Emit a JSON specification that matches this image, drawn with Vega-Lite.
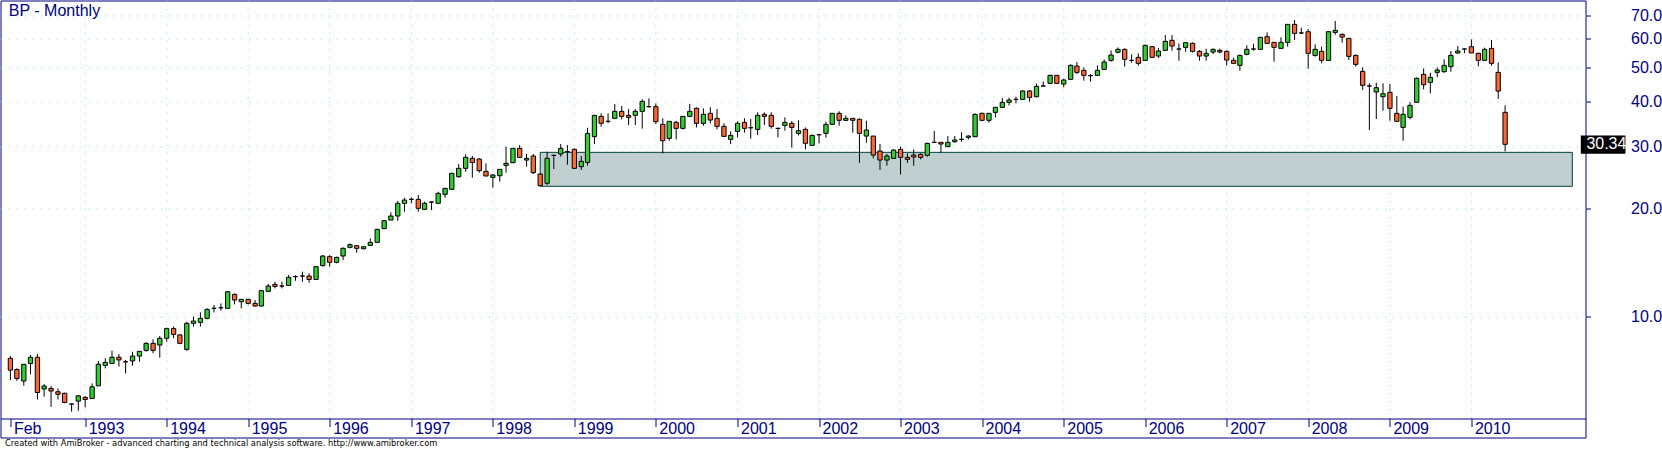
{
"$schema": "https://vega.github.io/schema/vega-lite/v6.json",
"width": 1585, "height": 437,
"autosize": {"type": "none"},
"padding": {"left": 0.5, "top": 0.5, "right": 76.5, "bottom": 11.5},
"background": "white",
"config": {"view": {"stroke": "#000080", "strokeWidth": 1}, "font": "Liberation Sans"},
"datasets": {
"years": [{"d":"1993-01-01"},{"d":"1994-01-01"},{"d":"1995-01-01"},{"d":"1996-01-01"},{"d":"1997-01-01"},{"d":"1998-01-01"},{"d":"1999-01-01"},{"d":"2000-01-01"},{"d":"2001-01-01"},{"d":"2002-01-01"},{"d":"2003-01-01"},{"d":"2004-01-01"},{"d":"2005-01-01"},{"d":"2006-01-01"},{"d":"2007-01-01"},{"d":"2008-01-01"},{"d":"2009-01-01"},{"d":"2010-01-01"}],
"candles": [
{"d":"1992-02-01","o":7.61,"h":7.72,"l":6.61,"c":7.05},
{"d":"1992-03-01","o":7.08,"h":7.13,"l":6.58,"c":6.68},
{"d":"1992-04-01","o":6.57,"h":7.32,"l":6.37,"c":7.32},
{"d":"1992-05-01","o":7.36,"h":7.77,"l":6.86,"c":7.66},
{"d":"1992-06-01","o":7.66,"h":7.82,"l":5.83,"c":6.10},
{"d":"1992-07-01","o":6.24,"h":6.44,"l":5.94,"c":6.36},
{"d":"1992-08-01","o":6.26,"h":6.36,"l":5.56,"c":6.16},
{"d":"1992-09-01","o":6.13,"h":6.26,"l":5.83,"c":6.03},
{"d":"1992-10-01","o":6.07,"h":6.09,"l":5.69,"c":5.72},
{"d":"1992-11-01","o":5.66,"h":5.69,"l":5.39,"c":5.66},
{"d":"1992-12-01","o":5.77,"h":6.00,"l":5.42,"c":5.97},
{"d":"1993-01-01","o":5.91,"h":5.96,"l":5.54,"c":5.83},
{"d":"1993-02-01","o":5.87,"h":6.47,"l":5.85,"c":6.33},
{"d":"1993-03-01","o":6.37,"h":7.48,"l":6.37,"c":7.32},
{"d":"1993-04-01","o":7.27,"h":7.61,"l":7.13,"c":7.41},
{"d":"1993-05-01","o":7.36,"h":7.99,"l":7.36,"c":7.66},
{"d":"1993-06-01","o":7.66,"h":7.82,"l":7.21,"c":7.53},
{"d":"1993-07-01","o":7.44,"h":7.53,"l":6.90,"c":7.44},
{"d":"1993-08-01","o":7.48,"h":7.94,"l":7.25,"c":7.72},
{"d":"1993-09-01","o":7.72,"h":7.96,"l":7.44,"c":7.96},
{"d":"1993-10-01","o":8.01,"h":8.44,"l":7.94,"c":8.38},
{"d":"1993-11-01","o":8.38,"h":8.60,"l":7.86,"c":8.01},
{"d":"1993-12-01","o":8.29,"h":8.79,"l":7.64,"c":8.66},
{"d":"1994-01-01","o":8.66,"h":9.28,"l":8.47,"c":9.22},
{"d":"1994-02-01","o":9.22,"h":9.34,"l":8.66,"c":8.88},
{"d":"1994-03-01","o":8.85,"h":8.88,"l":8.38,"c":8.38},
{"d":"1994-04-01","o":8.06,"h":9.64,"l":7.99,"c":9.54},
{"d":"1994-05-01","o":9.54,"h":9.96,"l":9.34,"c":9.68},
{"d":"1994-06-01","o":9.60,"h":10.24,"l":9.34,"c":9.85},
{"d":"1994-07-01","o":9.85,"h":10.51,"l":9.79,"c":10.44},
{"d":"1994-08-01","o":10.51,"h":10.74,"l":10.24,"c":10.51},
{"d":"1994-09-01","o":10.55,"h":10.85,"l":10.35,"c":10.55},
{"d":"1994-10-01","o":10.51,"h":11.75,"l":10.51,"c":11.70},
{"d":"1994-11-01","o":11.50,"h":11.58,"l":10.78,"c":11.09},
{"d":"1994-12-01","o":10.97,"h":11.16,"l":10.51,"c":11.14},
{"d":"1995-01-01","o":11.14,"h":11.14,"l":10.78,"c":10.85},
{"d":"1995-02-01","o":10.85,"h":11.09,"l":10.62,"c":10.67},
{"d":"1995-03-01","o":10.67,"h":11.83,"l":10.62,"c":11.78},
{"d":"1995-04-01","o":11.73,"h":12.30,"l":11.68,"c":12.14},
{"d":"1995-05-01","o":12.27,"h":12.48,"l":11.96,"c":12.11},
{"d":"1995-06-01","o":12.14,"h":12.48,"l":11.96,"c":12.14},
{"d":"1995-07-01","o":12.19,"h":13.04,"l":12.19,"c":12.84},
{"d":"1995-08-01","o":12.90,"h":13.01,"l":12.56,"c":12.90},
{"d":"1995-09-01","o":12.95,"h":13.32,"l":12.48,"c":12.95},
{"d":"1995-10-01","o":12.95,"h":13.18,"l":12.40,"c":12.67},
{"d":"1995-11-01","o":12.67,"h":13.76,"l":12.67,"c":13.76},
{"d":"1995-12-01","o":13.85,"h":14.83,"l":13.76,"c":14.74},
{"d":"1996-01-01","o":14.68,"h":14.83,"l":13.76,"c":14.15},
{"d":"1996-02-01","o":14.15,"h":14.68,"l":14.06,"c":14.61},
{"d":"1996-03-01","o":14.74,"h":15.59,"l":14.36,"c":15.49},
{"d":"1996-04-01","o":15.59,"h":16.00,"l":15.49,"c":15.86},
{"d":"1996-05-01","o":15.76,"h":15.82,"l":15.06,"c":15.49},
{"d":"1996-06-01","o":15.45,"h":15.72,"l":15.39,"c":15.65},
{"d":"1996-07-01","o":15.79,"h":16.52,"l":15.76,"c":16.10},
{"d":"1996-08-01","o":16.10,"h":17.59,"l":16.10,"c":17.51},
{"d":"1996-09-01","o":17.59,"h":18.60,"l":17.59,"c":18.52},
{"d":"1996-10-01","o":18.60,"h":19.55,"l":18.60,"c":19.09},
{"d":"1996-11-01","o":19.09,"h":21.03,"l":18.52,"c":20.72},
{"d":"1996-12-01","o":20.72,"h":21.49,"l":19.63,"c":21.17},
{"d":"1997-01-01","o":21.26,"h":21.54,"l":20.72,"c":21.26},
{"d":"1997-02-01","o":21.26,"h":21.86,"l":19.63,"c":20.06},
{"d":"1997-03-01","o":19.93,"h":20.94,"l":19.84,"c":20.72},
{"d":"1997-04-01","o":20.89,"h":20.98,"l":19.84,"c":20.89},
{"d":"1997-05-01","o":20.72,"h":22.34,"l":20.72,"c":22.10},
{"d":"1997-06-01","o":21.96,"h":22.83,"l":21.49,"c":22.83},
{"d":"1997-07-01","o":22.68,"h":25.26,"l":22.58,"c":25.15},
{"d":"1997-08-01","o":24.61,"h":26.71,"l":24.46,"c":25.98},
{"d":"1997-09-01","o":25.98,"h":28.44,"l":25.42,"c":27.89},
{"d":"1997-10-01","o":27.71,"h":28.13,"l":24.46,"c":27.00},
{"d":"1997-11-01","o":27.59,"h":27.71,"l":25.26,"c":25.59},
{"d":"1997-12-01","o":25.48,"h":26.83,"l":24.72,"c":24.72},
{"d":"1998-01-01","o":24.51,"h":25.04,"l":22.92,"c":24.88},
{"d":"1998-02-01","o":24.77,"h":25.81,"l":23.83,"c":25.81},
{"d":"1998-03-01","o":26.48,"h":29.88,"l":25.26,"c":26.83},
{"d":"1998-04-01","o":26.94,"h":29.56,"l":26.94,"c":29.56},
{"d":"1998-05-01","o":29.56,"h":30.20,"l":27.89,"c":27.89},
{"d":"1998-06-01","o":27.41,"h":28.50,"l":26.26,"c":27.71},
{"d":"1998-07-01","o":28.13,"h":28.50,"l":25.04,"c":25.26},
{"d":"1998-08-01","o":25.04,"h":25.15,"l":23.17,"c":23.22},
{"d":"1998-09-01","o":23.58,"h":28.93,"l":23.32,"c":27.71},
{"d":"1998-10-01","o":28.25,"h":28.37,"l":25.86,"c":28.25},
{"d":"1998-11-01","o":28.50,"h":30.40,"l":28.01,"c":29.56},
{"d":"1998-12-01","o":28.93,"h":30.20,"l":26.60,"c":28.93},
{"d":"1999-01-01","o":29.37,"h":29.56,"l":25.86,"c":25.98},
{"d":"1999-02-01","o":26.26,"h":28.13,"l":25.70,"c":27.18},
{"d":"1999-03-01","o":27.00,"h":33.78,"l":26.43,"c":32.57},
{"d":"1999-04-01","o":31.88,"h":36.59,"l":30.40,"c":36.59},
{"d":"1999-05-01","o":36.35,"h":37.07,"l":34.00,"c":34.75},
{"d":"1999-06-01","o":35.20,"h":37.07,"l":34.75,"c":35.20},
{"d":"1999-07-01","o":35.89,"h":39.37,"l":35.73,"c":37.55},
{"d":"1999-08-01","o":37.55,"h":38.87,"l":35.66,"c":36.35},
{"d":"1999-09-01","o":36.59,"h":38.12,"l":34.37,"c":36.12},
{"d":"1999-10-01","o":36.59,"h":38.12,"l":34.37,"c":37.55},
{"d":"1999-11-01","o":37.55,"h":40.58,"l":33.57,"c":40.06},
{"d":"1999-12-01","o":38.70,"h":40.84,"l":38.53,"c":38.70},
{"d":"2000-01-01","o":38.70,"h":39.54,"l":34.60,"c":35.12},
{"d":"2000-02-01","o":34.52,"h":35.89,"l":28.62,"c":31.06},
{"d":"2000-03-01","o":31.53,"h":35.20,"l":31.06,"c":35.20},
{"d":"2000-04-01","o":34.97,"h":35.27,"l":31.33,"c":33.64},
{"d":"2000-05-01","o":33.64,"h":36.35,"l":33.42,"c":36.35},
{"d":"2000-06-01","o":36.35,"h":39.37,"l":36.28,"c":37.55},
{"d":"2000-07-01","o":38.28,"h":38.53,"l":33.85,"c":34.75},
{"d":"2000-08-01","o":34.75,"h":38.28,"l":34.22,"c":36.83},
{"d":"2000-09-01","o":37.07,"h":38.53,"l":34.75,"c":35.50},
{"d":"2000-10-01","o":35.89,"h":38.12,"l":33.42,"c":34.08},
{"d":"2000-11-01","o":34.08,"h":34.75,"l":31.94,"c":31.94},
{"d":"2000-12-01","o":31.33,"h":32.99,"l":30.40,"c":32.15},
{"d":"2001-01-01","o":32.99,"h":35.20,"l":31.74,"c":34.75},
{"d":"2001-02-01","o":34.97,"h":35.89,"l":32.71,"c":33.64},
{"d":"2001-03-01","o":33.78,"h":35.73,"l":31.47,"c":33.78},
{"d":"2001-04-01","o":33.42,"h":37.31,"l":32.22,"c":36.59},
{"d":"2001-05-01","o":36.83,"h":37.31,"l":34.37,"c":36.35},
{"d":"2001-06-01","o":36.59,"h":37.31,"l":33.57,"c":34.08},
{"d":"2001-07-01","o":33.64,"h":33.78,"l":31.74,"c":33.64},
{"d":"2001-08-01","o":34.30,"h":36.12,"l":33.14,"c":34.97},
{"d":"2001-09-01","o":34.75,"h":35.27,"l":29.69,"c":33.85},
{"d":"2001-10-01","o":32.57,"h":35.43,"l":32.15,"c":33.14},
{"d":"2001-11-01","o":33.42,"h":33.85,"l":29.37,"c":30.53},
{"d":"2001-12-01","o":30.14,"h":32.29,"l":30.14,"c":32.15},
{"d":"2002-01-01","o":32.29,"h":32.36,"l":30.53,"c":32.29},
{"d":"2002-02-01","o":32.57,"h":35.12,"l":31.67,"c":34.52},
{"d":"2002-03-01","o":34.52,"h":37.07,"l":34.52,"c":37.07},
{"d":"2002-04-01","o":37.07,"h":37.55,"l":34.22,"c":35.43},
{"d":"2002-05-01","o":35.43,"h":36.59,"l":35.35,"c":35.89},
{"d":"2002-06-01","o":35.89,"h":35.89,"l":32.71,"c":35.43},
{"d":"2002-07-01","o":35.66,"h":35.89,"l":26.94,"c":32.57},
{"d":"2002-08-01","o":32.01,"h":35.35,"l":30.66,"c":33.28},
{"d":"2002-09-01","o":32.01,"h":32.01,"l":27.71,"c":28.31},
{"d":"2002-10-01","o":29.05,"h":30.40,"l":25.70,"c":27.41},
{"d":"2002-11-01","o":27.41,"h":28.50,"l":26.43,"c":28.13},
{"d":"2002-12-01","o":27.71,"h":29.37,"l":27.71,"c":29.24},
{"d":"2003-01-01","o":29.37,"h":29.88,"l":24.99,"c":27.89},
{"d":"2003-02-01","o":27.89,"h":28.62,"l":26.94,"c":27.53},
{"d":"2003-03-01","o":28.31,"h":29.37,"l":26.43,"c":27.95},
{"d":"2003-04-01","o":28.44,"h":28.62,"l":27.53,"c":27.89},
{"d":"2003-05-01","o":28.25,"h":30.66,"l":28.01,"c":30.53},
{"d":"2003-06-01","o":30.73,"h":33.07,"l":30.66,"c":30.73},
{"d":"2003-07-01","o":30.73,"h":30.73,"l":28.74,"c":30.40},
{"d":"2003-08-01","o":29.88,"h":32.01,"l":29.88,"c":30.73},
{"d":"2003-09-01","o":30.86,"h":32.01,"l":30.66,"c":31.20},
{"d":"2003-10-01","o":31.33,"h":32.78,"l":30.86,"c":31.33},
{"d":"2003-11-01","o":31.74,"h":32.15,"l":31.33,"c":32.01},
{"d":"2003-12-01","o":31.88,"h":37.07,"l":31.88,"c":36.83},
{"d":"2004-01-01","o":37.07,"h":37.23,"l":35.43,"c":35.43},
{"d":"2004-02-01","o":35.43,"h":37.07,"l":34.90,"c":37.07},
{"d":"2004-03-01","o":37.31,"h":38.70,"l":36.12,"c":38.53},
{"d":"2004-04-01","o":38.53,"h":40.93,"l":38.53,"c":39.80},
{"d":"2004-05-01","o":39.80,"h":41.02,"l":39.03,"c":40.40},
{"d":"2004-06-01","o":40.58,"h":41.28,"l":39.54,"c":40.58},
{"d":"2004-07-01","o":40.58,"h":43.10,"l":40.40,"c":42.82},
{"d":"2004-08-01","o":42.82,"h":43.10,"l":39.97,"c":41.10},
{"d":"2004-09-01","o":41.28,"h":44.90,"l":41.10,"c":44.13},
{"d":"2004-10-01","o":44.23,"h":45.58,"l":44.04,"c":44.23},
{"d":"2004-11-01","o":45.00,"h":47.60,"l":44.80,"c":47.39},
{"d":"2004-12-01","o":47.39,"h":47.39,"l":45.00,"c":45.00},
{"d":"2005-01-01","o":44.80,"h":46.38,"l":43.85,"c":45.98},
{"d":"2005-02-01","o":46.18,"h":50.88,"l":46.18,"c":50.55},
{"d":"2005-03-01","o":50.33,"h":51.65,"l":47.79,"c":48.31},
{"d":"2005-04-01","o":48.94,"h":49.90,"l":45.78,"c":47.39},
{"d":"2005-05-01","o":47.29,"h":47.79,"l":45.49,"c":47.29},
{"d":"2005-06-01","o":47.39,"h":50.55,"l":47.19,"c":48.94},
{"d":"2005-07-01","o":49.26,"h":52.55,"l":49.26,"c":51.65},
{"d":"2005-08-01","o":52.21,"h":55.70,"l":51.76,"c":54.04},
{"d":"2005-09-01","o":55.00,"h":56.79,"l":54.63,"c":56.06},
{"d":"2005-10-01","o":56.06,"h":56.42,"l":50.12,"c":52.55},
{"d":"2005-11-01","o":52.21,"h":54.28,"l":51.43,"c":52.21},
{"d":"2005-12-01","o":53.23,"h":54.63,"l":50.44,"c":51.21},
{"d":"2006-01-01","o":52.21,"h":57.78,"l":52.21,"c":57.53},
{"d":"2006-02-01","o":57.03,"h":57.28,"l":53.00,"c":53.23},
{"d":"2006-03-01","o":53.69,"h":56.54,"l":53.00,"c":55.46},
{"d":"2006-04-01","o":55.70,"h":61.50,"l":55.70,"c":59.03},
{"d":"2006-05-01","o":59.42,"h":61.50,"l":55.58,"c":57.28},
{"d":"2006-06-01","o":56.18,"h":58.28,"l":52.10,"c":56.18},
{"d":"2006-07-01","o":56.79,"h":58.79,"l":55.22,"c":58.53},
{"d":"2006-08-01","o":58.28,"h":58.66,"l":54.98,"c":55.34},
{"d":"2006-09-01","o":55.34,"h":55.82,"l":52.10,"c":53.69},
{"d":"2006-10-01","o":53.69,"h":56.30,"l":52.10,"c":54.63},
{"d":"2006-11-01","o":55.10,"h":56.42,"l":54.40,"c":56.06},
{"d":"2006-12-01","o":55.70,"h":56.30,"l":54.63,"c":55.10},
{"d":"2007-01-01","o":55.34,"h":55.70,"l":50.55,"c":52.32},
{"d":"2007-02-01","o":52.21,"h":53.12,"l":50.99,"c":51.21},
{"d":"2007-03-01","o":50.55,"h":54.16,"l":48.84,"c":53.92},
{"d":"2007-04-01","o":54.28,"h":57.53,"l":53.92,"c":56.06},
{"d":"2007-05-01","o":56.18,"h":58.15,"l":55.58,"c":56.18},
{"d":"2007-06-01","o":56.06,"h":60.84,"l":55.82,"c":60.58},
{"d":"2007-07-01","o":60.84,"h":62.57,"l":57.90,"c":58.28},
{"d":"2007-08-01","o":58.66,"h":58.66,"l":51.76,"c":56.79},
{"d":"2007-09-01","o":56.42,"h":60.58,"l":56.42,"c":58.66},
{"d":"2007-10-01","o":58.66,"h":65.89,"l":57.03,"c":65.89},
{"d":"2007-11-01","o":65.89,"h":67.76,"l":59.55,"c":62.17},
{"d":"2007-12-01","o":62.30,"h":64.49,"l":61.90,"c":62.30},
{"d":"2008-01-01","o":62.84,"h":63.93,"l":49.47,"c":54.63},
{"d":"2008-02-01","o":53.92,"h":57.90,"l":53.46,"c":56.06},
{"d":"2008-03-01","o":55.34,"h":57.03,"l":51.21,"c":52.21},
{"d":"2008-04-01","o":52.21,"h":62.84,"l":52.21,"c":62.84},
{"d":"2008-05-01","o":62.57,"h":67.33,"l":61.63,"c":63.39},
{"d":"2008-06-01","o":61.76,"h":62.17,"l":58.53,"c":60.71},
{"d":"2008-07-01","o":60.19,"h":60.19,"l":52.32,"c":53.58},
{"d":"2008-08-01","o":53.92,"h":54.28,"l":50.12,"c":50.87},
{"d":"2008-09-01","o":48.63,"h":49.90,"l":43.10,"c":44.42},
{"d":"2008-10-01","o":44.23,"h":45.00,"l":33.28,"c":44.23},
{"d":"2008-11-01","o":42.55,"h":45.19,"l":35.74,"c":43.76},
{"d":"2008-12-01","o":41.28,"h":45.00,"l":37.71,"c":42.09},
{"d":"2009-01-01","o":42.46,"h":44.80,"l":35.35,"c":38.28},
{"d":"2009-02-01","o":37.07,"h":41.46,"l":35.05,"c":35.20},
{"d":"2009-03-01","o":33.85,"h":38.70,"l":31.06,"c":36.83},
{"d":"2009-04-01","o":36.12,"h":39.80,"l":35.66,"c":39.03},
{"d":"2009-05-01","o":39.80,"h":46.78,"l":39.80,"c":46.48},
{"d":"2009-06-01","o":47.69,"h":49.58,"l":43.28,"c":44.61},
{"d":"2009-07-01","o":45.29,"h":48.21,"l":42.18,"c":46.78},
{"d":"2009-08-01","o":48.31,"h":49.90,"l":46.78,"c":49.05},
{"d":"2009-09-01","o":48.52,"h":52.55,"l":48.21,"c":50.55},
{"d":"2009-10-01","o":50.12,"h":55.46,"l":48.52,"c":53.92},
{"d":"2009-11-01","o":54.75,"h":57.28,"l":54.51,"c":55.46},
{"d":"2009-12-01","o":56.18,"h":56.42,"l":54.75,"c":56.18},
{"d":"2010-01-01","o":57.03,"h":59.80,"l":54.75,"c":54.75},
{"d":"2010-02-01","o":54.63,"h":54.86,"l":50.23,"c":52.21},
{"d":"2010-03-01","o":52.21,"h":56.67,"l":52.21,"c":56.06},
{"d":"2010-04-01","o":56.42,"h":59.55,"l":50.44,"c":51.21},
{"d":"2010-05-01","o":48.31,"h":51.54,"l":40.68,"c":42.82},
{"d":"2010-06-01","o":37.31,"h":39.03,"l":28.99,"c":30.34}
]},
"layer": [
{
"data": {"name": "years"},
"mark": {"type": "rule", "color": "#88E0E0", "strokeDash": [1, 7], "strokeWidth": 1},
"encoding": {
"x": {"field": "d", "type": "temporal",
"scale": {"type": "utc", "domain": [{"year": 1992, "month": 1, "date": 10, "utc": true}, {"year": 2011, "month": 5, "date": 4, "hours": 16, "utc": true}], "nice": false},
"axis": {"offset": -19, "grid": false, "domain": true, "domainColor": "#000080", "domainWidth": 1, "ticks": true, "tickColor": "#000080", "tickSize": 8, "tickWidth": 1,
"values": [{"year": 1992, "month": 2, "date": 1, "utc": true}, {"year": 1993, "month": 1, "date": 1, "utc": true}, {"year": 1994, "month": 1, "date": 1, "utc": true}, {"year": 1995, "month": 1, "date": 1, "utc": true}, {"year": 1996, "month": 1, "date": 1, "utc": true}, {"year": 1997, "month": 1, "date": 1, "utc": true}, {"year": 1998, "month": 1, "date": 1, "utc": true}, {"year": 1999, "month": 1, "date": 1, "utc": true}, {"year": 2000, "month": 1, "date": 1, "utc": true}, {"year": 2001, "month": 1, "date": 1, "utc": true}, {"year": 2002, "month": 1, "date": 1, "utc": true}, {"year": 2003, "month": 1, "date": 1, "utc": true}, {"year": 2004, "month": 1, "date": 1, "utc": true}, {"year": 2005, "month": 1, "date": 1, "utc": true}, {"year": 2006, "month": 1, "date": 1, "utc": true}, {"year": 2007, "month": 1, "date": 1, "utc": true}, {"year": 2008, "month": 1, "date": 1, "utc": true}, {"year": 2009, "month": 1, "date": 1, "utc": true}, {"year": 2010, "month": 1, "date": 1, "utc": true}],
"labelExpr": "utcmonth(datum.value) == 1 ? 'Feb' : utcFormat(datum.value, '%Y')",
"labelFont": "Liberation Sans", "labelFontSize": 16, "labelColor": "#000080", "labelAlign": "left", "labelBaseline": "alphabetic", "labelPadding": 7, "labelOffset": 3, "labelOverlap": false, "labelFlush": false, "labelBound": false,
"title": "Created with AmiBroker - advanced charting and technical analysis software. http://www.amibroker.com",
"titleFont": "DejaVu Sans", "titleFontSize": 8.3, "titleFontWeight": "normal", "titleColor": "black", "titleAlign": "left", "titleAnchor": "start", "titleBaseline": "alphabetic", "titleX": 4, "titleY": 26.5}},
"y": {"datum": 5.172, "type": "quantitative",
"scale": {"type": "log", "domain": [4.5604, 76.88], "nice": false},
"axis": {"orient": "right", "values": [10, 20, 30, 40, 50, 60, 70], "format": ".1f", "domain": false, "grid": true, "gridColor": "#88E0E0", "gridDash": [1, 7], "gridWidth": 1, "ticks": true, "tickSize": 5, "tickColor": "#000080", "labelFont": "Liberation Sans", "labelFontSize": 16, "labelColor": "#000080", "labelAlign": "left", "labelBaseline": "middle", "labelPadding": 40, "labelOverlap": false, "labelFlush": false, "labelBound": false, "title": null}},
"y2": {"datum": 76.88}
}
},
{
"data": {"values": [{"d": "1998-08-01", "d2": "2011-03-29", "lo": 23.13, "hi": 28.81}]},
"mark": {"type": "rect", "fill": "#C0D0D0", "stroke": "#004040", "strokeWidth": 1},
"encoding": {
"x": {"field": "d", "type": "temporal"},
"x2": {"field": "d2"},
"y": {"field": "lo", "type": "quantitative", "scale": {"type": "log", "domain": [4.5604, 76.88], "nice": false}},
"y2": {"field": "hi"}
}
},
{
"data": {"name": "candles"},
"mark": {"type": "rule", "color": "black", "strokeWidth": 1},
"encoding": {
"x": {"field": "d", "type": "temporal"},
"y": {"field": "l", "type": "quantitative", "scale": {"type": "log", "domain": [4.5604, 76.88], "nice": false}},
"y2": {"field": "h"}
}
},
{
"data": {"name": "candles"},
"mark": {"type": "bar", "size": 4.3, "stroke": "black", "strokeWidth": 1},
"encoding": {
"x": {"field": "d", "type": "temporal"},
"y": {"field": "o", "type": "quantitative", "scale": {"type": "log", "domain": [4.5604, 76.88], "nice": false}},
"y2": {"field": "c"},
"fill": {"condition": [{"test": "datum.c == datum.o", "value": "black"}, {"test": "datum.c > datum.o", "value": "#33CC33"}], "value": "#FF6633"}
}
},
{
"data": {"values": [{"label": "30.34", "v": 30.34}]},
"mark": {"type": "rect", "fill": "black"},
"encoding": {
"x": {"datum": {"year": 2011, "month": 5, "date": 6, "utc": true}, "type": "temporal"},
"x2": {"datum": {"year": 2011, "month": 11, "date": 22, "utc": true}},
"y": {"datum": 28.55, "type": "quantitative", "scale": {"type": "log", "domain": [4.5604, 76.88], "nice": false}},
"y2": {"datum": 32.1}
}
},
{
"data": {"values": [{"label": "30.34", "v": 30.34}]},
"mark": {"type": "text", "align": "left", "baseline": "middle", "font": "Liberation Sans", "fontSize": 16, "color": "white"},
"encoding": {
"x": {"datum": {"year": 2011, "month": 5, "date": 31, "utc": true}, "type": "temporal"},
"y": {"field": "v", "type": "quantitative", "scale": {"type": "log", "domain": [4.5604, 76.88], "nice": false}},
"text": {"field": "label"}
}
},
{
"data": {"values": [{"t": "BP - Monthly"}]},
"mark": {"type": "text", "align": "left", "baseline": "alphabetic", "font": "Liberation Sans", "fontSize": 16, "color": "#000080"},
"encoding": {
"x": {"datum": {"year": 1992, "month": 1, "date": 25, "utc": true}, "type": "temporal"},
"y": {"datum": 69.56, "type": "quantitative", "scale": {"type": "log", "domain": [4.5604, 76.88], "nice": false}},
"text": {"field": "t"}
}
}
]
}
